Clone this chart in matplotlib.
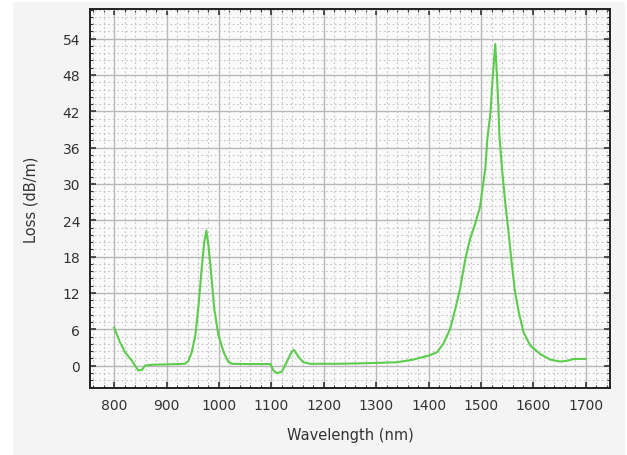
import matplotlib.pyplot as plt
from matplotlib.patches import Rectangle
from matplotlib.ticker import MultipleLocator

# wavelength (nm) and loss (dB/m)
wavelength = [800, 811, 821, 834, 846, 853, 859, 875, 900, 935, 942, 948, 955,
              961, 967, 972, 976, 980, 985, 991, 999, 1009, 1018, 1025, 1060,
              1098, 1104, 1110, 1120, 1129, 1139, 1143, 1152, 1161, 1174, 1230,
              1282, 1340, 1371, 1400, 1416, 1428, 1441, 1451, 1460, 1470, 1479,
              1489, 1498, 1508, 1512, 1518, 1522, 1527, 1530, 1533, 1535, 1540,
              1546, 1552, 1559, 1565, 1572, 1581, 1594, 1613, 1632, 1651, 1664,
              1677, 1699]
loss = [6.3, 3.9, 2.2, 0.8, -0.8, -0.7, 0.0, 0.15, 0.2, 0.3, 0.8, 2.2, 5.0,
        9.9, 16.0, 20.4, 22.3, 19.8, 15.4, 9.4, 5.0, 2.2, 0.6, 0.3, 0.25,
        0.25, -0.8, -1.25, -1.0, 0.55, 2.3, 2.6, 1.4, 0.55, 0.3, 0.3,
        0.4, 0.55, 1.0, 1.65, 2.2, 3.6, 6.05, 9.4, 12.7, 17.6, 20.9,
        23.5, 26.2, 32.5, 37.4, 41.8, 47.3, 53.1, 48.4, 42.9, 37.9, 32.5,
        27.0, 22.4, 16.5, 12.1, 8.8, 5.5, 3.3, 1.9, 1.0, 0.66, 0.8,
        1.1, 1.1]

xticks = list(range(800, 1701, 100))
yticks = list(range(0, 55, 6))

fig = plt.figure(figsize=(6.27, 4.56), dpi=100, facecolor='white')
fig.patches.append(Rectangle((13 / 627, 0), 612 / 627, 453 / 456,
                             transform=fig.transFigure, facecolor='#f4f4f4',
                             edgecolor='none', zorder=-10))
ax = fig.add_axes([90 / 627, 67 / 456, 520 / 627, 379 / 456])
ax.set_facecolor('#fafafa')

ax.plot(wavelength, loss, color='#5ccc4c', lw=1.5, zorder=3)

ax.set_xlim(754, 1746)
ax.set_ylim(-3.7, 58.9)
ax.set_xticks(xticks)
ax.set_yticks(yticks)
ax.xaxis.set_minor_locator(MultipleLocator(20))
ax.yaxis.set_minor_locator(MultipleLocator(1.2))

ax.grid(which='major', color='#b8b8b8', lw=1.0, zorder=1)
ax.grid(which='minor', color='#c4c4c4', lw=0.8, ls=(0, (1.5, 2.5)), zorder=1)
ax.set_axisbelow(True)

ax.tick_params(which='major', direction='in', length=4, width=1.2,
               top=True, right=True, labelsize=10, colors='#333333',
               labelcolor='#333333', pad=7)
ax.tick_params(which='minor', direction='in', length=2, width=0.8,
               top=True, right=True, colors='#333333')
for s in ax.spines.values():
    s.set_linewidth(1.4)
    s.set_color('#222222')

ax.set_xlabel('Wavelength (nm)', fontsize=10.5, color='#333333', labelpad=11)
ax.set_ylabel('Loss (dB/m)', fontsize=10.5, color='#333333', labelpad=17)

fig.savefig('out.png', dpi=100, facecolor=fig.get_facecolor())
